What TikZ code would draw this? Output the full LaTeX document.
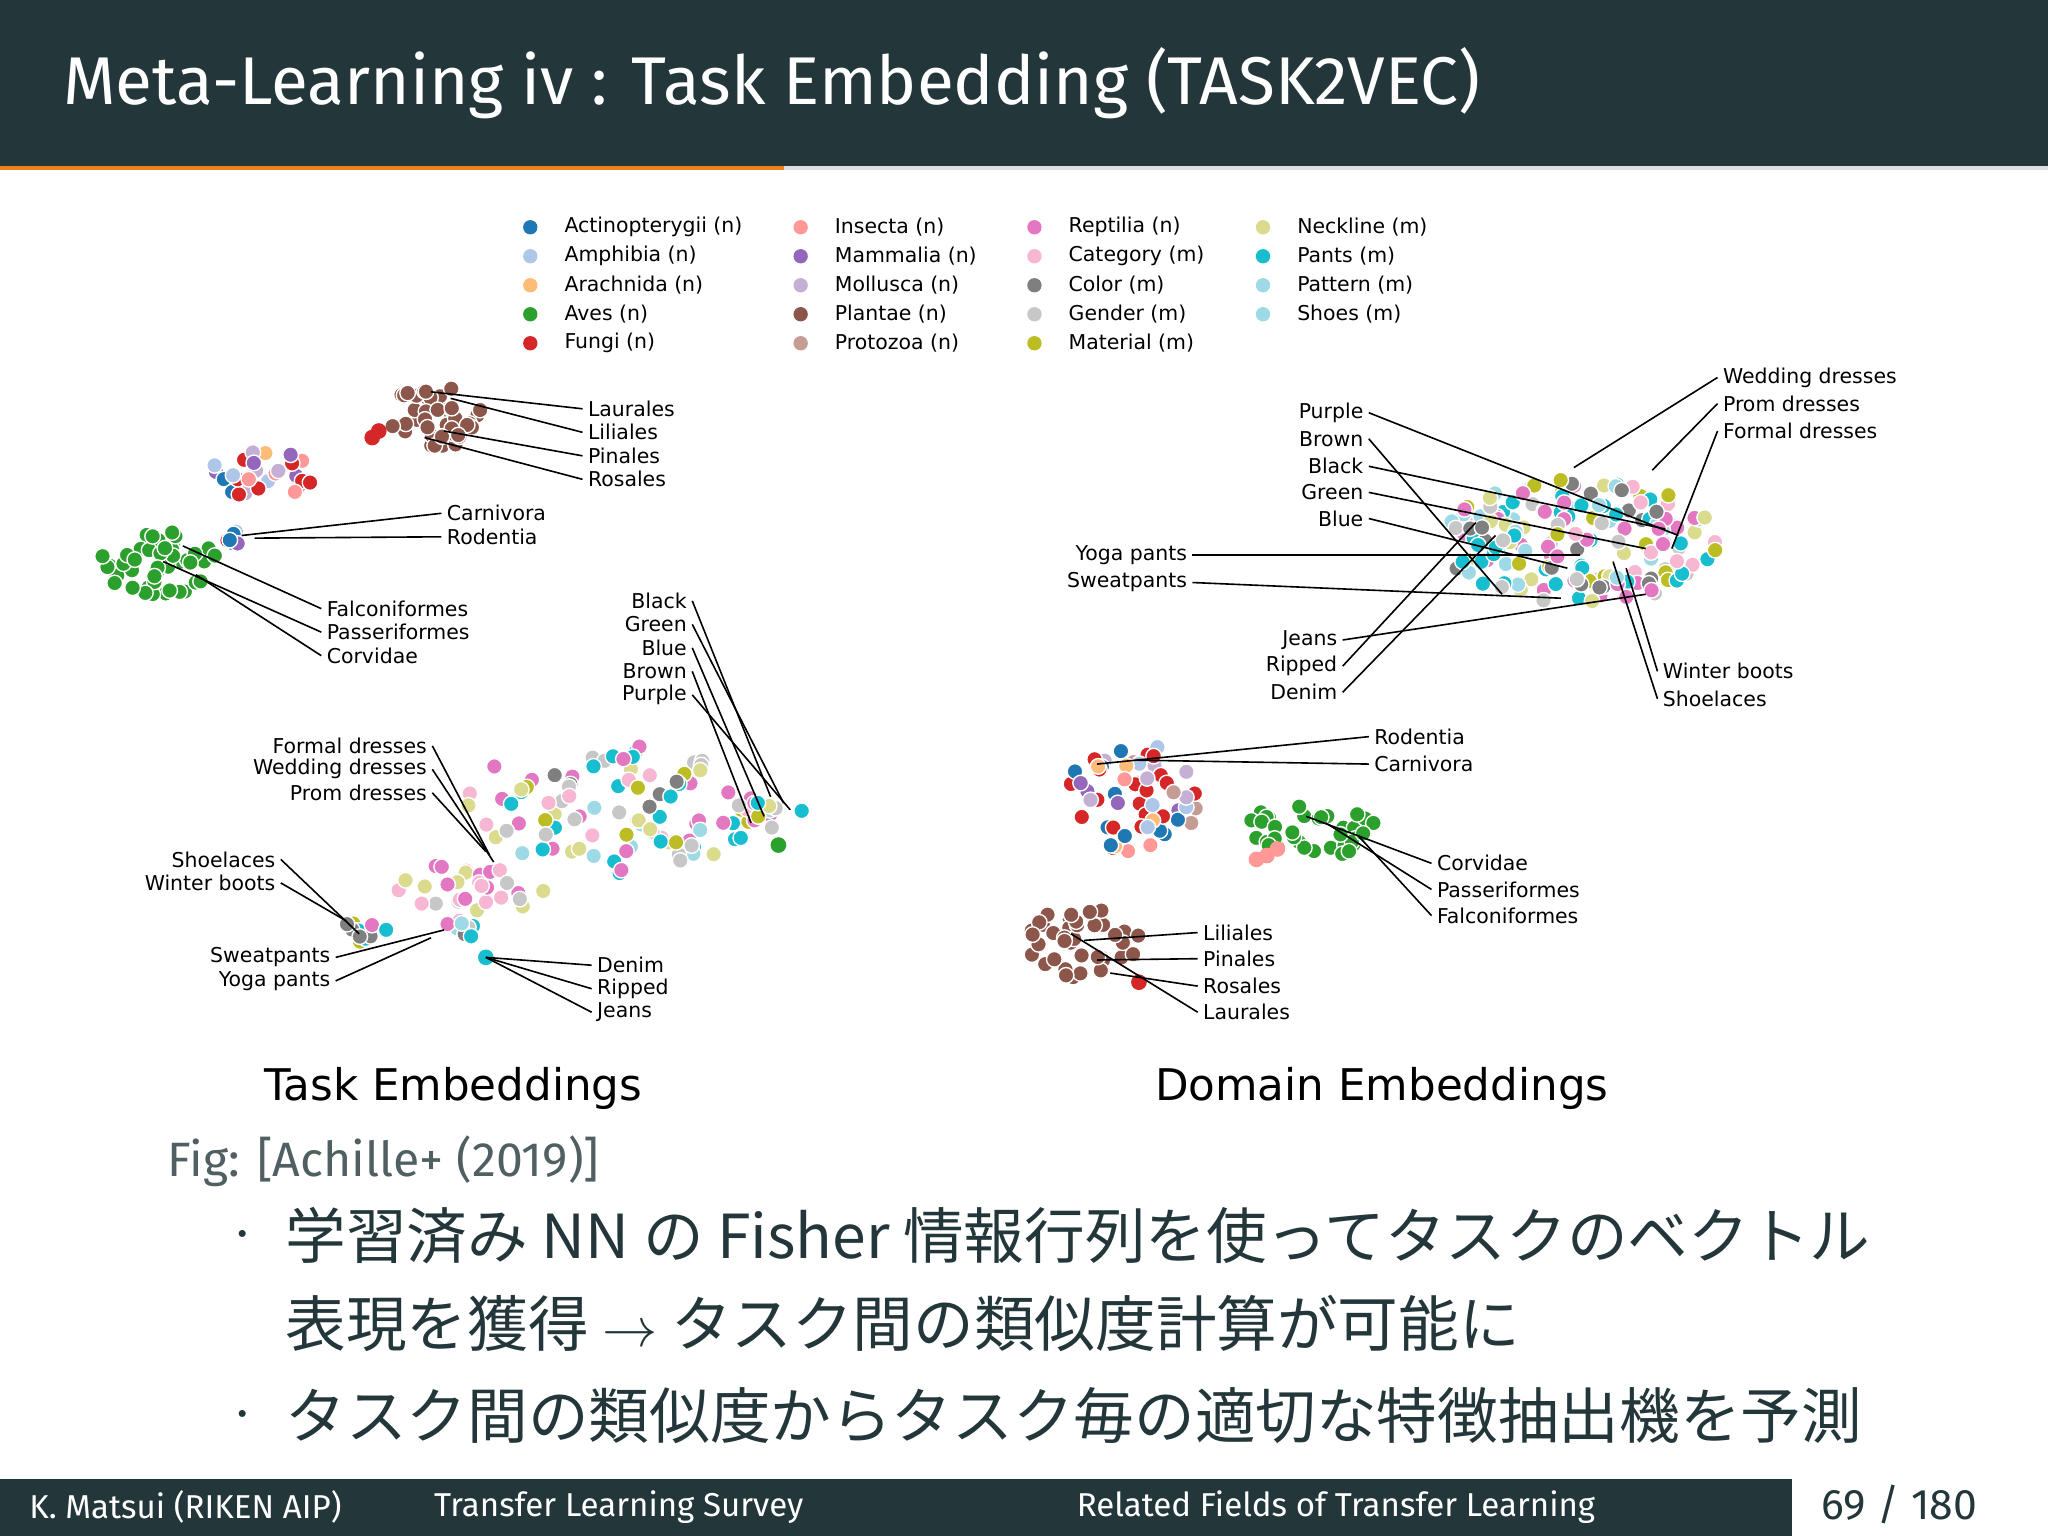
\documentclass[tikz,border=0pt]{standalone}
\usepackage{fontspec}
\setmainfont{Fira Sans}
\newfontfamily\plotf{DejaVu Sans}
\newfontfamily\jp{Noto Sans CJK JP}
\definecolor{dk}{HTML}{23373B}
\definecolor{orn}{HTML}{EB811B}
\definecolor{c1}{HTML}{1F77B4}\definecolor{c2}{HTML}{AEC7E8}\definecolor{c3}{HTML}{FFBB78}
\definecolor{c4}{HTML}{2CA02C}\definecolor{c5}{HTML}{D62728}\definecolor{c6}{HTML}{FF9896}
\definecolor{c7}{HTML}{9467BD}\definecolor{c8}{HTML}{C5B0D5}\definecolor{c9}{HTML}{8C564B}
\definecolor{c10}{HTML}{C49C94}\definecolor{c11}{HTML}{E377C2}\definecolor{c12}{HTML}{F7B6D2}
\definecolor{c13}{HTML}{7F7F7F}\definecolor{c14}{HTML}{C7C7C7}\definecolor{c15}{HTML}{BCBD22}
\definecolor{c16}{HTML}{DBDB8D}\definecolor{c17}{HTML}{17BECF}\definecolor{c18}{HTML}{9EDAE5}
\pgfmathdeclarerandomlist{mset}{{c11}{c12}{c13}{c14}{c15}{c16}{c17}{c18}{c11}{c17}}
\pgfmathdeclarerandomlist{pset}{{c11}{c12}{c11}{c14}{c16}}
\pgfmathdeclarerandomlist{nset}{{c1}{c2}{c3}{c5}{c6}{c7}{c8}{c10}{c5}{c1}}
\pgfmathdeclarerandomlist{pl}{{c9}}
\pgfmathdeclarerandomlist{av}{{c4}}
\newcommand\dotcloud[6]{%
 \foreach \i in {1,...,#5}{%
  \pgfmathsetmacro\aa{360*rnd}\pgfmathsetmacro\rr{sqrt(rnd)}%
  \pgfmathrandomitem{\cc}{#6}%
  \fill[\cc,draw=white,line width=0.3pt] ({#1+#3*\rr*cos(\aa)},{#2+#4*\rr*sin(\aa)}) circle[radius=0.06cm];}}
\tikzset{lab/.style={font=\plotf\fontsize{4.45}{5}\selectfont,text=black,inner sep=1pt},
 ll/.style={black,line width=0.35pt}}
\begin{document}
\begin{tikzpicture}[x=0.01cm,y=-0.01cm]
\pgfmathsetseed{7}
\useasboundingbox (0,0) rectangle (1568,1176);
\fill[white] (0,0) rectangle (1568,1176);
\fill[dk] (0,0) rectangle (1568,127);
\fill[gray!25] (0,127) rectangle (1568,130);
\fill[orn] (0,127) rectangle (600,130);
\node[anchor=west,text=white,font=\fontsize{14.7}{16}\selectfont] (title) at (36,64) {Meta-Learning iv : Task Embedding (TASK2VEC)};
% legend
\foreach \col/\t [count=\k] in {c1/Actinopterygii (n),c2/Amphibia (n),c3/Arachnida (n),c4/Aves (n),c5/Fungi (n),c6/Insecta (n),c7/Mammalia (n),c8/Mollusca (n),c9/Plantae (n),c10/Protozoa (n),c11/Reptilia (n),c12/Category (m),c13/Color (m),c14/Gender (m),c15/Material (m),c16/Neckline (m),c17/Pants (m),c18/Pattern (m),c18/Shoes (m)}{
 \pgfmathtruncatemacro\cx{int((\k-1)/5)}\pgfmathtruncatemacro\ry{mod(\k-1,5)}
 \pgfmathsetmacro\xd{{406,613,792,967}[\cx]}\pgfmathsetmacro\yd{174+22.2*\ry}
 \fill[\col] (\xd,\yd) circle[radius=0.055cm];
 \node[lab,anchor=west] (lg\k) at (\xd+22,\yd) {\t};}
% left clusters
\dotcloud{332}{320}{38}{24}{40}{pl}
\fill[c5] (285,335) circle[radius=0.06cm] (290,330) circle[radius=0.06cm];
\dotcloud{200}{362}{50}{18}{28}{nset}
\dotcloud{122}{430}{45}{26}{45}{av}
\dotcloud{185}{412}{12}{6}{6}{nset}
\dotcloud{470}{618}{115}{52}{95}{mset}
\dotcloud{365}{680}{60}{20}{28}{pset}
\dotcloud{278}{712}{18}{9}{10}{mset}
\dotcloud{350}{712}{18}{8}{8}{mset}
\dotcloud{590}{620}{25}{18}{15}{mset}
\fill[c4] (596,647) circle[radius=0.06cm];
% right clusters
\dotcloud{1210}{415}{105}{48}{170}{mset}
\dotcloud{868}{610}{52}{42}{55}{nset}
\dotcloud{1005}{635}{50}{22}{35}{av}
\fill[c6] (970,655) circle[radius=0.06cm] (978,650) circle[radius=0.06cm] (962,658) circle[radius=0.06cm];
\dotcloud{828}{722}{45}{27}{40}{pl}
\fill[c5] (872,752) circle[radius=0.06cm];
% left labels
\foreach \t/\y/\px/\py [count=\k] in {Laurales/313/330/300,Liliales/331/345/305,Pinales/349/340/330,Rosales/367/325/335}{
 \node[lab,anchor=west] (a\k) at (446,\y) {\t}; \coordinate (pa\k) at (\px,\py); \draw[ll] (pa\k) -- (a\k.west);}
\foreach \t/\y/\px/\py [count=\k] in {Carnivora/393/185/410,Rodentia/411/195/412}{
 \node[lab,anchor=west] (b\k) at (338,\y) {\t}; \coordinate (pb\k) at (\px,\py); \draw[ll] (pb\k) -- (b\k.west);}
\foreach \t/\y/\px/\py [count=\k] in {Falconiformes/466/140/418,Passeriformes/484/125/430,Corvidae/502/150/440}{
 \node[lab,anchor=west] (c\k) at (246,\y) {\t}; \coordinate (pc\k) at (\px,\py); \draw[ll] (pc\k) -- (c\k.west);}
\foreach \t/\y/\px/\py [count=\k] in {Black/460/590/610,Green/478/600/615,Blue/496/585/625,Brown/514/575/630,Purple/532/605/620}{
 \node[lab,anchor=east] (d\k) at (530,\y) {\t}; \coordinate (pd\k) at (\px,\py); \draw[ll] (pd\k) -- (d\k.east);}
\foreach \t/\y/\px/\py [count=\k] in {Formal dresses/571/375/655,Wedding dresses/589/378/660,Prom dresses/607/372/652}{
 \node[lab,anchor=east] (e\k) at (331,\y) {\t}; \coordinate (pe\k) at (\px,\py); \draw[ll] (pe\k) -- (e\k.east);}
\foreach \t/\y/\px/\py [count=\k] in {Shoelaces/658/275/715,Winter boots/676/265/705}{
 \node[lab,anchor=east] (f\k) at (215,\y) {\t}; \coordinate (pf\k) at (\px,\py); \draw[ll] (pf\k) -- (f\k.east);}
\foreach \t/\y/\px/\py [count=\k] in {Sweatpants/733/340/712,Yoga pants/751/330/718}{
 \node[lab,anchor=east] (g\k) at (257,\y) {\t}; \coordinate (pg\k) at (\px,\py); \draw[ll] (pg\k) -- (g\k.east);}
\fill[c17] (372,733) circle[radius=0.06cm];
\foreach \t/\y [count=\k] in {Denim/739,Ripped/757,Jeans/775}{
 \node[lab,anchor=west] (h\k) at (453,\y) {\t}; \coordinate (ph\k) at (372,733); \draw[ll] (ph\k) -- (h\k.west);}
% right labels
\foreach \t/\y/\px/\py [count=\k] in {Wedding dresses/289/1205/358,Prom dresses/309/1265/360,Formal dresses/330/1280/420}{
 \node[lab,anchor=west] (i\k) at (1315,\y) {\t}; \coordinate (pi\k) at (\px,\py); \draw[ll] (pi\k) -- (i\k.west);}
\foreach \t/\y/\px/\py [count=\k] in {Purple/316/1285/410,Brown/336/1150/455,Black/357/1275/405,Green/377/1260/420,Blue/397/1200/435}{
 \node[lab,anchor=east] (j\k) at (1048,\y) {\t}; \coordinate (pj\k) at (\px,\py); \draw[ll] (pj\k) -- (j\k.east);}
\foreach \t/\y/\px/\py [count=\k] in {Yoga pants/425/1210/425,Sweatpants/446/1195/458}{
 \node[lab,anchor=east] (m\k) at (913,\y) {\t}; \coordinate (pm\k) at (\px,\py); \draw[ll] (pm\k) -- (m\k.east);}
\foreach \t/\y/\px/\py [count=\k] in {Jeans/490/1260/455,Ripped/510/1130/400,Denim/530/1145/410}{
 \node[lab,anchor=east] (n\k) at (1028,\y) {\t}; \coordinate (pn\k) at (\px,\py); \draw[ll] (pn\k) -- (n\k.east);}
\foreach \t/\y/\px/\py [count=\k] in {Winter boots/514/1245/435,Shoelaces/535/1235/430}{
 \node[lab,anchor=west] (o\k) at (1269,\y) {\t}; \coordinate (po\k) at (\px,\py); \draw[ll] (po\k) -- (o\k.west);}
\foreach \t/\y/\px/\py [count=\k] in {Rodentia/564/840/585,Carnivora/585/870/582}{
 \node[lab,anchor=west] (q\k) at (1048,\y) {\t}; \coordinate (pq\k) at (\px,\py); \draw[ll] (pq\k) -- (q\k.west);}
\foreach \t/\y/\px/\py [count=\k] in {Corvidae/661/1000/625,Passeriformes/681/1015/630,Falconiformes/701/1040/640}{
 \node[lab,anchor=west] (r\k) at (1096,\y) {\t}; \coordinate (pr\k) at (\px,\py); \draw[ll] (pr\k) -- (r\k.west);}
\foreach \t/\y/\px/\py [count=\k] in {Liliales/714/830/720,Pinales/734/840/735,Rosales/755/850/745,Laurales/775/820/715}{
 \node[lab,anchor=west] (s\k) at (917,\y) {\t}; \coordinate (ps\k) at (\px,\py); \draw[ll] (ps\k) -- (s\k.west);}
% captions
\node[font=\plotf\fontsize{9.5}{10}\selectfont] (t1) at (347,833) {Task Embeddings};
\node[font=\plotf\fontsize{9.5}{10}\selectfont] (t2) at (1058,833) {Domain Embeddings};
\node[anchor=west,text=dk!80,font=\fontsize{10.5}{12}\selectfont] (fig) at (116,889) {Fig: [Achille+ (2019)]};
\tikzset{jb/.style={anchor=west,text=dk,font=\jp\fontsize{13.2}{14}\selectfont,inner sep=0pt}}
\node[text=dk,font=\fontsize{14}{10}\selectfont] (b1) at (186,946) {$\cdot$};
\node[jb] (l1) at (218,946) {学習済み NN の Fisher 情報行列を使ってタスクのベクトル};
\node[jb] (l2) at (218,1013) {表現を獲得 $\rightarrow$ タスク間の類似度計算が可能に};
\node[text=dk,font=\fontsize{14}{10}\selectfont] (b2) at (186,1084) {$\cdot$};
\node[jb] (l3) at (218,1084) {タスク間の類似度からタスク毎の適切な特徴抽出機を予測};
% footer
\fill[dk] (0,1132) rectangle (1372,1176);
\tikzset{ft/.style={anchor=west,text=white,font=\fontsize{7.2}{8}\selectfont}}
\node[ft] (f1) at (10,1154) {K. Matsui (RIKEN AIP)};
\node[ft] (f2) at (320,1154) {Transfer Learning Survey};
\node[ft] (f3) at (812,1154) {Related Fields of Transfer Learning};
\node[anchor=east,text=dk,font=\fontsize{9.3}{10}\selectfont] (pg) at (1526,1152) {69 / 180};
\end{tikzpicture}
\end{document}
